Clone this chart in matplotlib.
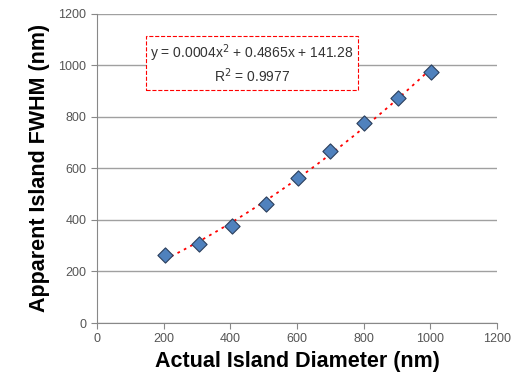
import numpy as np
import matplotlib.pyplot as plt

plt.rcParams['font.family'] = ['Liberation Sans', 'DejaVu Sans']

diameter = [203, 305, 404, 506, 602, 700, 800, 902, 1002]
fwhm = [263, 307, 376, 461, 563, 668, 775, 874, 973]

coef = np.polyfit(diameter, fwhm, 2)
xs = np.linspace(min(diameter), max(diameter), 100)
ys = np.polyval(coef, xs)

fig = plt.figure(figsize=(5.13, 3.85), dpi=100)
ax = fig.add_axes([0.189, 0.161, 0.78, 0.803])

ax.plot(xs, ys, color='red', linestyle=(0, (1.5, 2.5)), linewidth=1.3, zorder=2)
ax.scatter(diameter, fwhm, marker='D', s=60, color='#4F81BD', edgecolor='#2b3f5c',
           linewidth=0.8, zorder=3)

ax.set_xlim(0, 1200)
ax.set_ylim(0, 1200)
ax.set_xticks(range(0, 1201, 200))
ax.set_yticks(range(0, 1201, 200))
ax.grid(axis='y', color='#a0a0a0', linewidth=1)
ax.set_axisbelow(True)
for s in ['top', 'right']:
    ax.spines[s].set_visible(False)
for s in ['left', 'bottom']:
    ax.spines[s].set_color('#888888')
ax.tick_params(colors='#888888', labelcolor='#555555', labelsize=9, length=4, direction='out')

ax.set_xlabel('Actual Island Diameter (nm)', fontsize=15.5, fontweight='bold', labelpad=4)
ax.set_ylabel('Apparent Island FWHM (nm)', fontsize=15.5, fontweight='bold', labelpad=6)

ax.text(465, 1005, 'y = 0.0004x$^2$ + 0.4865x + 141.28\nR$^2$ = 0.9977',
        ha='center', va='center', fontsize=10, color='#333333', linespacing=1.15,
        bbox=dict(boxstyle='square,pad=0.3', facecolor='white', edgecolor='red',
                  linestyle='--', linewidth=0.8))

fig.savefig('out.png', dpi=100)
